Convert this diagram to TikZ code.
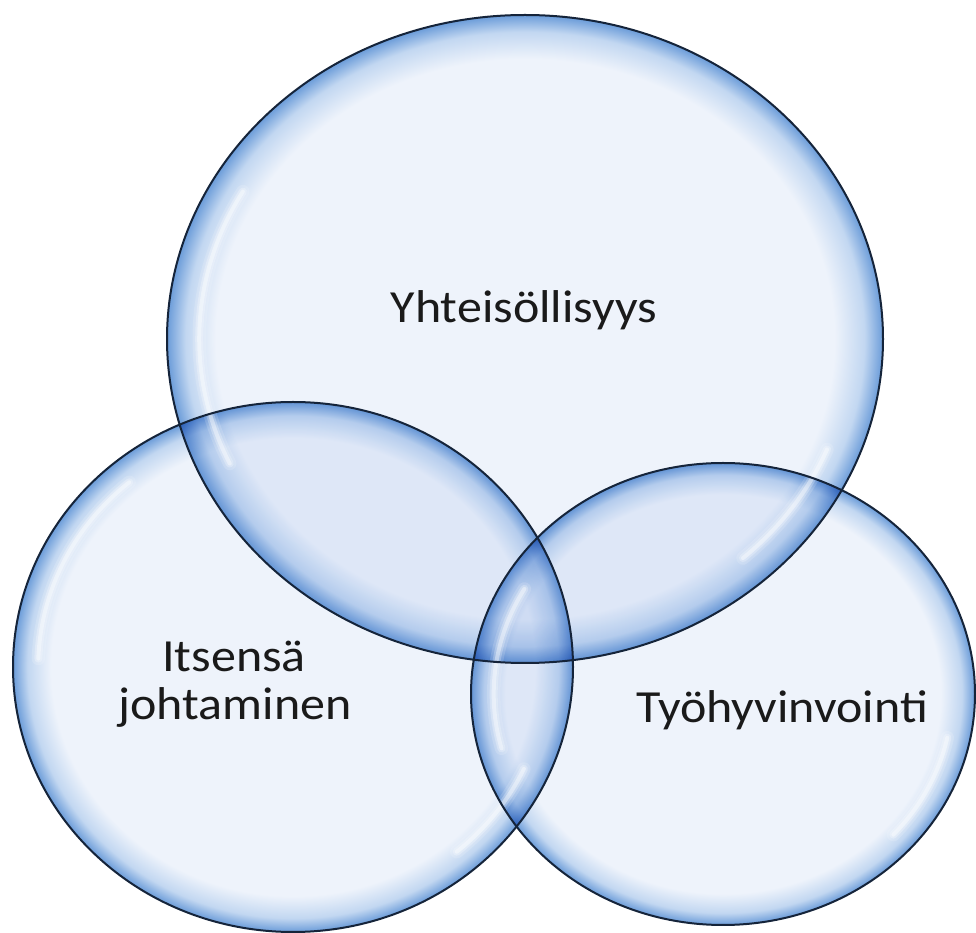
\documentclass[tikz,border=0pt]{standalone}
\usepackage{fontspec}
\setmainfont{Carlito}
\definecolor{bIn}{HTML}{EEF3FB}
\definecolor{bMid}{HTML}{C2D7F1}
\definecolor{bEdge}{HTML}{6B9CD9}
\definecolor{bLine}{HTML}{15243A}
\definecolor{txt}{HTML}{1A1A1A}
\pgfdeclareradialshading{bubble}{\pgfpoint{0bp}{0bp}}{color(0bp)=(bIn); color(21.6bp)=(bIn); color(23.7bp)=(bMid); color(25bp)=(bEdge); color(50bp)=(bEdge)}
\tikzset{
  bubblefill/.style={shading=bubble},
  rimline/.style={draw=bLine, line width=1.5pt},
  hl/.style={draw=white, line cap=round},
  lbl/.style={text=txt, font=\fontsize{37.5}{45}\selectfont, inner sep=0pt, anchor=base, yscale=0.92, transform shape}
}
% highlight: center x, center y, rx, ry, a1, a2
\newcommand{\hlarc}[6]{%
  \foreach \w/\o in {10/0.15,6/0.25,3/0.4}{%
    \draw[hl, line width=\w pt, draw opacity=\o]
      ($(#1,#2)+({0.91*#3*cos(#5)},{0.91*#4*sin(#5)})$)
      arc[start angle=#5, end angle=#6, x radius={0.91*#3}, y radius={0.91*#4}];
  }%
}
\usetikzlibrary{calc}
\begin{document}
\begin{tikzpicture}[x=0.75pt,y=0.75pt]
\useasboundingbox (0,0) rectangle (976,933);
\fill[white] (0,0) rectangle (976,933);
% fills
\begin{scope}[blend mode=multiply]
  \shade[bubblefill] (525,594) ellipse[x radius=358, y radius=324];
  \shade[bubblefill] (293,266) ellipse[x radius=280, y radius=265];
  \shade[bubblefill] (723,239) ellipse[x radius=252, y radius=231];
\end{scope}
% highlights
\hlarc{525}{594}{358}{324}{150}{205}
\hlarc{525}{594}{358}{324}{-48}{-22}
\hlarc{293}{266}{280}{265}{130}{178}
\hlarc{293}{266}{280}{265}{-50}{-25}
\hlarc{723}{239}{252}{231}{150}{195}
\hlarc{723}{239}{252}{231}{-42}{-12}
% outlines
\draw[rimline] (525,594) ellipse[x radius=358, y radius=324];
\draw[rimline] (293,266) ellipse[x radius=280, y radius=265];
\draw[rimline] (723,239) ellipse[x radius=252, y radius=231];
% labels
\node[lbl] (yht) at (524,610) {Yhteisöllisyys};
\node[lbl] (its) at (234,261) {Itsensä};
\node[lbl] (joh) at (235,213) {johtaminen};
\node[lbl] (tyo) at (782,210) {Työhyvinvointi};
\end{tikzpicture}
\end{document}
